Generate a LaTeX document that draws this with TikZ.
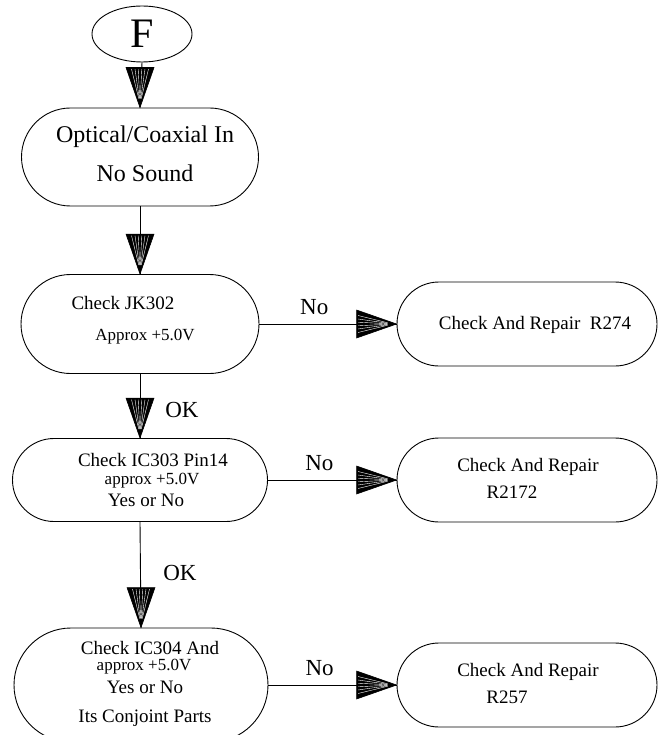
\documentclass[tikz,border=0pt]{standalone}
\usepackage{fontspec}
\setmainfont{Liberation Serif}
\usetikzlibrary{shapes.geometric, shapes.misc, positioning}
\tikzstyle{stadium} = [draw, rounded rectangle, line width=0.9pt, inner sep=0pt]
\tikzstyle{txt}     = [inner sep=0pt, font=\fontsize{19}{22}\selectfont]
\tikzstyle{small}   = [inner sep=0pt, font=\fontsize{17}{20}\selectfont]
\tikzstyle{lbl}     = [inner sep=0pt, font=\fontsize{23}{26}\selectfont]

\begin{document}
\begin{tikzpicture}[
        x=1pt, y=-1pt,
        line width=0.9pt,
        hatchhead/.pic={
            \draw[fill=black, line width=0.6pt] (0,0) -- (-14,-40) -- (14,-40) -- cycle;
            \foreach \k in {-8.5,-5,-1.8,1.8,5,8.5} {
                \draw[white, line width=0.4pt] (\k,-38.5) -- (0.15*\k,-9);
            }
        }
    ]
        \useasboundingbox (0,0) rectangle (658,735);

        % start
        \node[draw, ellipse, line width=0.9pt, minimum width=100, minimum height=56, inner sep=0pt,
              font=\fontsize{42}{46}\selectfont] (F) at (142,34) {F};

        % left column
        \node[stadium, minimum width=237, minimum height=98] (opt) at (140,157) {};
        \node[txt, font=\fontsize{24}{28}\selectfont] (opt1) at (145,137) {Optical/Coaxial In};
        \node[txt, font=\fontsize{24}{28}\selectfont] (opt2) at (145,173) {No Sound};

        \node[stadium, minimum width=238, minimum height=99] (jk) at (140,324) {};
        \node[txt] (jk1) at (123,303) {Check JK302};
        \node[small] (jk2) at (145,337) {Approx +5.0V};

        \node[stadium, minimum width=255, minimum height=83] (icA) at (140,480) {};
        \node[txt] (icA1) at (153,460) {Check IC303 Pin14};
        \node[small] (icA2) at (152,481) {approx +5.0V};
        \node[txt] (icA3) at (146,500) {Yes or No};

        \node[stadium, minimum width=254, minimum height=114] (icB) at (141,685) {};
        \node[txt] (icB1) at (150,648) {Check IC304 And};
        \node[small] (icB2) at (144,667) {approx +5.0V};
        \node[txt] (icB3) at (145,687) {Yes or No};
        \node[txt] (icB4) at (145,718) {Its Conjoint Parts};

        % right column
        \node[stadium, minimum width=260, minimum height=84] (repA) at (527,324) {};
        \node[txt] (repA1) at (535,325) {Check And Repair~~R274};

        \node[stadium, minimum width=260, minimum height=84] (repB) at (527,480) {};
        \node[txt] (repB1) at (528,467) {Check And Repair};
        \node[txt] (repB2) at (512,492) {R2172};

        \node[stadium, minimum width=260, minimum height=84] (repC) at (527,685) {};
        \node[txt] (repC1) at (528,672) {Check And Repair};
        \node[txt] (repC2) at (507,697) {R257};

        % vertical flow
        \draw (F.south) -- (opt.north);
        \pic at (opt.north) {hatchhead};
        \draw (opt.south) -- (jk.north);
        \pic at (jk.north) {hatchhead};
        \draw (jk.south) -- (icA.north);
        \pic at (icA.north) {hatchhead};
        \draw (icA.south) -- (icB.north);
        \pic at (icB.north) {hatchhead};

        \node[lbl] (okA) at (182,410) {OK};
        \node[lbl] (okB) at (180,573) {OK};

        % no branches
        \draw (jk.east) -- node[lbl, pos=0.4, above=9pt] (noA) {No} (repA.west);
        \pic[rotate=90] at (repA.west) {hatchhead};
        \draw (icA.east) -- node[lbl, pos=0.4, above=9pt] (noB) {No} (repB.west);
        \pic[rotate=90] at (repB.west) {hatchhead};
        \draw (icB.east) -- node[lbl, pos=0.4, above=9pt] (noC) {No} (repC.west);
        \pic[rotate=90] at (repC.west) {hatchhead};

    \end{tikzpicture}
\end{document}
